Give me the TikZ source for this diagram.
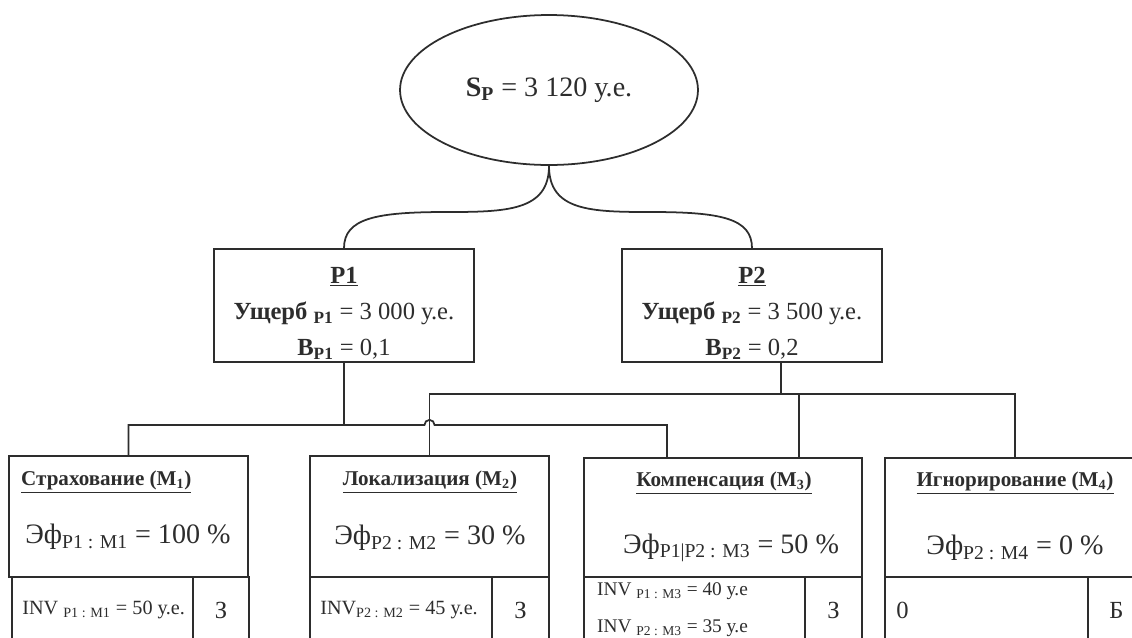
\documentclass[tikz,border=0pt]{standalone}
\usepackage{fontspec}
\setmainfont{Liberation Serif}
\usepackage{tikz}
\usetikzlibrary{positioning, shapes.geometric, calc, fit}
\definecolor{inkgray}{RGB}{45,45,45}

\tikzset{
  box/.style={draw=inkgray, line width=1pt, inner sep=0pt},
  wire/.style={draw=inkgray, line width=1pt},
  title/.style={font=\fontsize{12}{14}\selectfont\bfseries},
  eff/.style={font=\fontsize{16}{18}\selectfont},
  cell/.style={anchor=west, font=\fontsize{11.5}{14}\selectfont},
  grade/.style={font=\fontsize{14}{16}\selectfont},
}

\begin{document}
\begin{tikzpicture}[x=0.02cm, y=-0.02cm, every node/.style={text=inkgray, font=\fontsize{14}{20.5}\selectfont}]
        \useasboundingbox (0,0) rectangle (1132,637);
        \clip (0,0) rectangle (1132,637);

        % total risk
        \node[box, ellipse, minimum width=5.96cm, minimum height=3cm, font=\fontsize{16}{18}\selectfont] (root) at (549,90) {\textbf{S\textsubscript{P}} = 3 120 у.е.};

        % risks
        \foreach \i/\x/\dmg/\prob in {1/344/{3 000}/{0,1}, 2/752/{3 500}/{0,2}} {
            \node[box, minimum width=5.2cm, minimum height=2.26cm] (p\i) at (\x,305.5) {};
            \node[align=center] (p\i txt) at (\x,313) {\textbf{\underline{P\i}}\\ \textbf{Ущерб \textsubscript{P\i}} = \dmg\ у.е.\\ \textbf{B\textsubscript{P\i}} = \prob};
        }
        \coordinate (lmid) at ($(root.south)!.5!(p1.north)+(0,5)$);
        \coordinate (rmid) at ($(root.south)!.5!(p2.north)+(0,5)$);
        \draw[wire] (root.south) .. controls +(0,45) and +(60,0) .. (lmid) .. controls +(-70,0) and +(0,-30) .. (p1.north);
        \draw[wire] (root.south) .. controls +(0,45) and +(-60,0) .. (rmid) .. controls +(70,0) and +(0,-30) .. (p2.north);

        % methods
        \foreach \n/\xl/\xr/\yt in {m1/9/248/456, m2/310/549/456, m3/584/862/458, m4/885/1145/458}
            \node[box, fit={(\xl,\yt) (\xr,577)}] (\n) {};
        \foreach \n/\xl/\xm/\xr/\t in {m1/12/193/249/З, m2/310/492/549/З, m3/584/805/862/З, m4/885/1088/1145/Б} {
            \node[box, fit={(\xl,577) (\xm,643)}] (\n-inv) {};
            \node[box, fit={(\xm,577) (\xr,643)}] (\n-cell) {};
            \node[grade] (\n-grade) at (\n-cell) {\t};
        }

        \node[title, anchor=west] (m1title) at (15,482) {\underline{Страхование (M\textsubscript{1})}};
        \node[title] (m2title) at (430,482) {\underline{Локализация (M\textsubscript{2})}};
        \node[title] (m3title) at (724,483) {\underline{Компенсация (M\textsubscript{3})}};
        \node[title] (m4title) at (1015,483) {\underline{Игнорирование (M\textsubscript{4})}};

        \node[eff] (m1eff) at (128,537) {Эф\textsubscript{P1 : M1} = 100 \%};
        \node[eff] (m2eff) at (430,538) {Эф\textsubscript{P2 : M2} = 30 \%};
        \node[eff] (m3eff) at (731,548) {Эф\textsubscript{P1|P2 : M3} = 50 \%};
        \node[eff] (m4eff) at (1015,548) {Эф\textsubscript{P2 : M4} = 0 \%};

        \node[cell] (m1invtxt) at ($(m1-inv.west)+(5,0)$) {INV \textsubscript{P1 : M1} = 50 у.е.};
        \node[cell] (m2invtxt) at ($(m2-inv.west)+(5,0)$) {INV\textsubscript{P2 : M2} = 45 у.е.};
        \node[cell, font=\fontsize{11}{13}\selectfont] (m3invtxt) at (591,591) {INV \textsubscript{P1 : M3} = 40 у.е};
        \node[cell, font=\fontsize{11}{13}\selectfont] (m3invtxtb) at (591,628) {INV \textsubscript{P2 : M3} = 35 у.е};
        \node[cell, font=\fontsize{14}{16}\selectfont] (m4invtxt) at ($(m4-inv.west)+(6,0)$) {0};

        % connectors
        \coordinate (b1) at ($(p1.south)+(0,62)$);
        \coordinate (p2out) at ($(p2.south)+(29,0)$);
        \coordinate (b2) at ($(p2out)+(0,31)$);
        \coordinate (m3a) at ($(m3.north)+(-56,0)$);
        \coordinate (m3b) at ($(m3.north)+(76,0)$);
        \draw[wire] (p1.south) -- (b1);
        \draw[wire] (m1.north) |- ($(m2.north |- b1)+(-5,0)$) arc (180:360:5) -| (m3a);
        \draw[wire] (p2out) -- (b2);
        \draw[wire] (m2.north) |- (b2) -| (m4.north);
        \draw[wire] (m3b) -- (m3b |- b2);
    \end{tikzpicture}
\end{document}
